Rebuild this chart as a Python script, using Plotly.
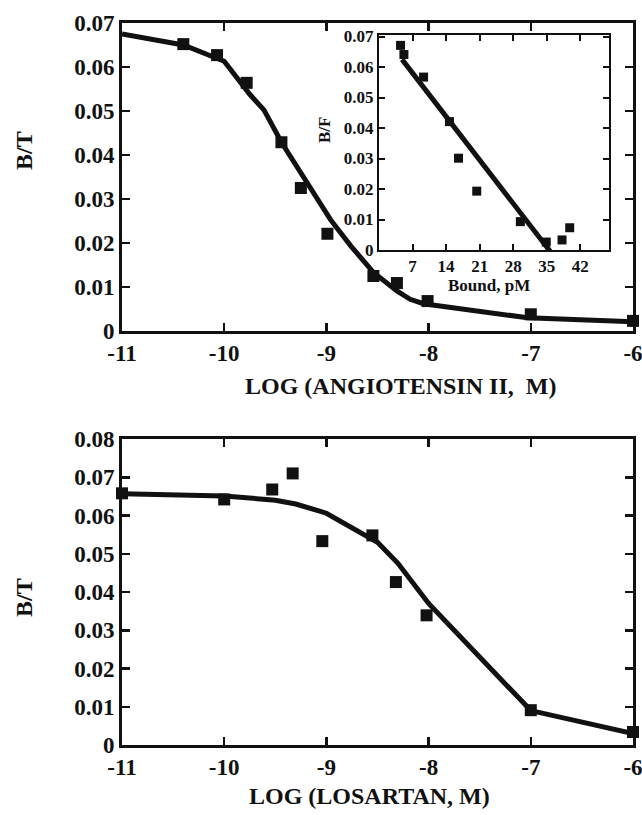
import plotly.graph_objects as go

W, H = 642, 815

# ---- Top panel: Angiotensin II competition ----
ang_x = [-10.4, -10.07, -9.78, -9.44, -9.25, -8.99, -8.54, -8.31, -8.01, -7.0, -6.0]
ang_y = [0.0652, 0.0627, 0.0564, 0.0429, 0.0325, 0.0221, 0.0125, 0.0109, 0.0068, 0.0038, 0.0023]
ang_fit_x = [-11.0, -10.4, -10.0, -9.75, -9.61, -9.44, -8.96, -8.76, -8.54, -8.31, -8.18, -8.05, -7.03, -6.0]
ang_fit_y = [0.0675, 0.0650, 0.0613, 0.0538, 0.0502, 0.0429, 0.0253, 0.0193, 0.0133, 0.0091, 0.0072, 0.0062, 0.0030, 0.0021]

# ---- Inset: Scatchard plot ----
scat_x = [4.5, 5.2, 9.3, 14.7, 16.6, 20.4, 29.5, 34.9, 38.2, 39.8]
scat_y = [0.0671, 0.0641, 0.0567, 0.0421, 0.0301, 0.0193, 0.0093, 0.0026, 0.0033, 0.0073]
scat_fit_x = [4.8, 35.8]
scat_fit_y = [0.0625, -0.0006]

# ---- Bottom panel: Losartan competition ----
los_x = [-11.0, -10.0, -9.53, -9.33, -9.04, -8.55, -8.32, -8.02, -7.0, -6.0]
los_y = [0.0658, 0.0642, 0.0668, 0.0710, 0.0533, 0.0548, 0.0426, 0.0339, 0.0091, 0.0034]
los_fit_x = [-11.0, -10.0, -9.5, -9.3, -9.0, -8.5, -8.3, -8.0, -7.0, -6.0]
los_fit_y = [0.0657, 0.0651, 0.0640, 0.0630, 0.0606, 0.0530, 0.0475, 0.0370, 0.0090, 0.0030]

# ---- Tick labels ----
log_ticks = [-11, -10, -9, -8, -7, -6]
log_ticktext = ["-11", "-10", "-9", "-8", "-7", "-6"]
bt_top_ticks = [0, 0.01, 0.02, 0.03, 0.04, 0.05, 0.06, 0.07]
bt_top_text = ["0", "0.01", "0.02", "0.03", "0.04", "0.05", "0.06", "0.07"]
bt_bot_ticks = [0, 0.01, 0.02, 0.03, 0.04, 0.05, 0.06, 0.07, 0.08]
bt_bot_text = ["0", "0.01", "0.02", "0.03", "0.04", "0.05", "0.06", "0.07", "0.08"]
bound_ticks = [7, 14, 21, 28, 35, 42]
bound_text = ["7", "14", "21", "28", "35", "42"]
bf_ticks = [0, 0.01, 0.02, 0.03, 0.04, 0.05, 0.06, 0.07]
bf_text = ["0", "0.01", "0.02", "0.03", "0.04", "0.05", "0.06", "0.07"]

FONT = "Liberation Serif"
INK = "#111111"


def px_x(p):
    return p / W


def px_y(p):
    return 1 - p / H


fig = go.Figure()

# top main
fig.add_trace(go.Scatter(x=ang_fit_x, y=ang_fit_y, mode="lines",
                         line=dict(color=INK, width=5), xaxis="x", yaxis="y",
                         showlegend=False, hoverinfo="skip"))
fig.add_trace(go.Scatter(x=ang_x, y=ang_y, mode="markers",
                         marker=dict(symbol="square", size=12, color=INK),
                         xaxis="x", yaxis="y", cliponaxis=False, showlegend=False))
# inset
fig.add_trace(go.Scatter(x=scat_fit_x, y=scat_fit_y, mode="lines",
                         line=dict(color=INK, width=5), xaxis="x2", yaxis="y2",
                         showlegend=False, hoverinfo="skip"))
fig.add_trace(go.Scatter(x=scat_x, y=scat_y, mode="markers",
                         marker=dict(symbol="square", size=9, color=INK),
                         xaxis="x2", yaxis="y2", cliponaxis=False, showlegend=False))
# bottom
fig.add_trace(go.Scatter(x=los_fit_x, y=los_fit_y, mode="lines",
                         line=dict(color=INK, width=5), xaxis="x3", yaxis="y3",
                         showlegend=False, hoverinfo="skip"))
fig.add_trace(go.Scatter(x=los_x, y=los_y, mode="markers",
                         marker=dict(symbol="square", size=12, color=INK),
                         xaxis="x3", yaxis="y3", cliponaxis=False, showlegend=False))


def ax(main=True, **kw):
    d = dict(showline=True, linecolor=INK, linewidth=3 if main else 2,
             mirror="ticks", ticks="inside", ticklen=8 if main else 6,
             tickwidth=2.5 if main else 2, tickcolor=INK,
             showgrid=False, zeroline=False, automargin=False,
             ticklabeloverflow="allow",
             tickfont=dict(family=FONT, size=23 if main else 17, color=INK, weight="bold"))
    d.update(kw)
    return d


fig.update_layout(
    template="none",
    width=W, height=H,
    autosize=False,
    margin=dict(l=0, r=0, t=0, b=0, pad=0),
    paper_bgcolor="white", plot_bgcolor="white",
    showlegend=False,
    xaxis=ax(domain=[px_x(122), px_x(633)], range=[-11, -6], anchor="y",
             tickmode="array", tickvals=log_ticks, ticktext=log_ticktext,
             ticklabelstandoff=-1),
    yaxis=ax(domain=[px_y(331), px_y(23)], range=[0, 0.07], anchor="x",
             tickmode="array", tickvals=bt_top_ticks, ticktext=bt_top_text),
    xaxis2=ax(False, domain=[px_x(379), px_x(609)], range=[0, 48], anchor="y2",
              tickmode="array", tickvals=bound_ticks, ticktext=bound_text),
    yaxis2=ax(False, domain=[px_y(250), px_y(35)], range=[0, 0.0705], anchor="x2",
              tickmode="array", tickvals=bf_ticks, ticktext=bf_text),
    xaxis3=ax(domain=[px_x(122), px_x(633)], range=[-11, -6], anchor="y3",
              tickmode="array", tickvals=log_ticks, ticktext=log_ticktext,
              ticklabelstandoff=-1),
    yaxis3=ax(domain=[px_y(745), px_y(439)], range=[0, 0.08], anchor="x3",
              tickmode="array", tickvals=bt_bot_ticks, ticktext=bt_bot_text),
)

title_font = dict(family=FONT, size=24, color=INK, weight="bold")
small_font = dict(family=FONT, size=17, color=INK, weight="bold")
annos = [
    dict(text="B/T", x=px_x(24), y=px_y(150), textangle=-90, font=title_font),
    dict(text="LOG (ANGIOTENSIN II,\u00a0 M)", x=px_x(400), y=px_y(386), font=title_font),
    dict(text="B/T", x=px_x(24), y=px_y(597), textangle=-90, font=title_font),
    dict(text="LOG (LOSARTAN, M)", x=px_x(369), y=px_y(796), font=title_font),
    dict(text="B/F", x=px_x(325), y=px_y(130), textangle=-90, font=small_font),
    dict(text="Bound, pM", x=px_x(489), y=px_y(285), font=small_font),
]
for a in annos:
    fig.add_annotation(xref="paper", yref="paper", showarrow=False,
                       xanchor="center", yanchor="middle", **a)

# remove the default page margin and scrollbars so the figure sits at (0, 0)
page_fix = ("document.documentElement.style.overflow='hidden';"
            "document.body.style.margin='0';"
            "document.body.style.overflow='hidden';")
fig.write_html("out.html", post_script=page_fix,
               config={"displayModeBar": False, "staticPlot": True})
